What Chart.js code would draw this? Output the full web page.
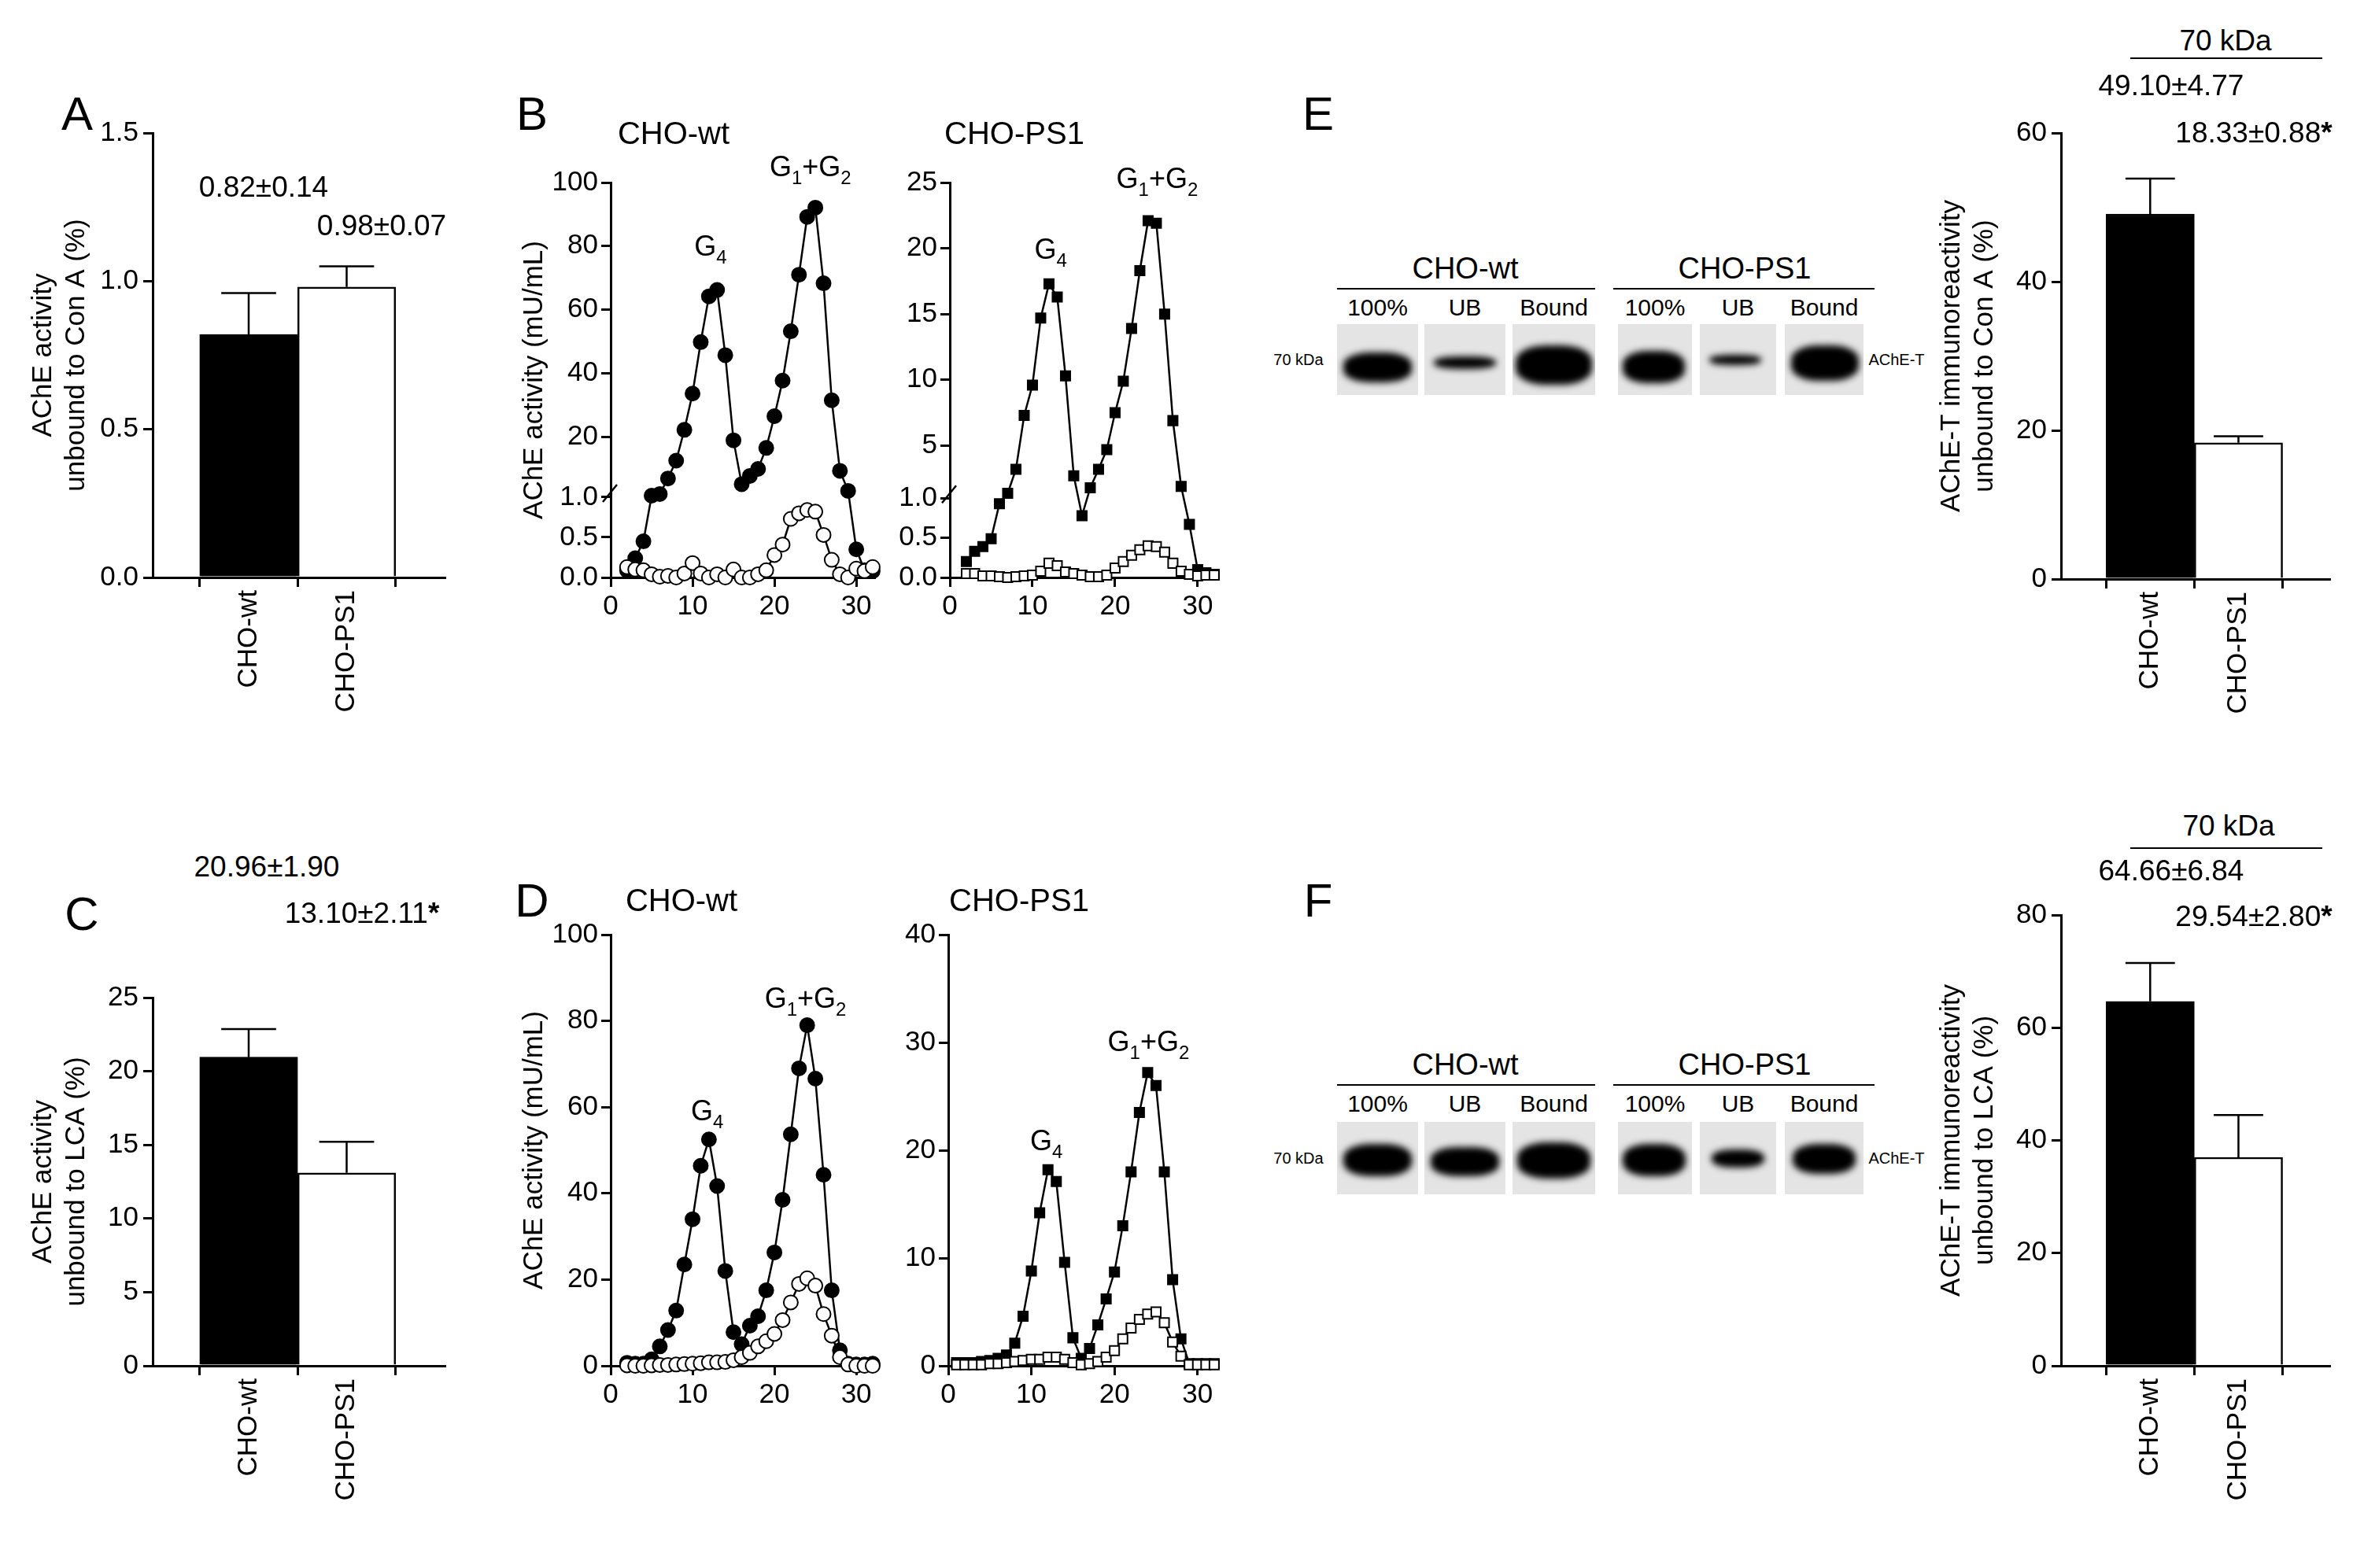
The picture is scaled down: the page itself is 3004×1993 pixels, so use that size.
<!DOCTYPE html>
<html>
<head>
<meta charset="utf-8">
<script src="https://cdn.jsdelivr.net/npm/chart.js@4.4.1/dist/chart.umd.min.js"></script>
<style>
  body { margin: 0; background: #fff; font-family: 'Liberation Sans', Arial, sans-serif; }
  #page { position: relative; width: 3004px; height: 1993px; overflow: hidden; }
  .box { position: absolute; }
  .t { position: absolute; transform: translate(-50%, -50%); white-space: nowrap; color: #000; }
  .hl { position: absolute; height: 2px; background: #000; }
  .lane { position: absolute; background: #e4e4e4; overflow: hidden; }
  .band { position: absolute; background: #000; border-radius: 40%; filter: blur(4px); }
</style>
</head>
<body>
<div id="page"></div>
<script>
// ---- data ----
const groups = ['CHO-wt', 'CHO-PS1'];

// A: AChE unbound to Con A (%)
const conA_mean = [0.82, 0.98];
const conA_sem = [0.14, 0.07];
// C: AChE unbound to LCA (%)
const lca_mean = [20.96, 13.1];
const lca_sem = [1.9, 2.11];
// E: AChE-T immunoreactivity unbound to Con A (%)
const ihcConA_mean = [49.1, 18.33];
const ihcConA_sem = [4.77, 0.88];
// F: AChE-T immunoreactivity unbound to LCA (%)
const ihcLca_mean = [64.66, 37.0];
const ihcLca_sem = [6.84, 7.5];

const fractions = [2,3,4,5,6,7,8,9,10,11,12,13,14,15,16,17,18,19,20,21,22,23,24,25,26,27,28,29,30,31,32];
const fractionsD2 = [1,2,3,4,5,6,7,8,9,10,11,12,13,14,15,16,17,18,19,20,21,22,23,24,25,26,27,28,29,30,31,32];

// B: sucrose gradients, unbound (open) vs total (filled)
const bWtTotal = [0.09,0.24,0.45,1.5,2,6.9,12.5,22.2,33.6,49.8,64.2,66.2,45.7,18.9,5.1,7.7,9.9,16.5,26.5,37.7,53.2,71,89.2,92.1,68.3,31.5,9.3,3.0,0.35,0.09,0.08];
const bWtUnbound = [0.13,0.1,0.09,0.04,0.01,0.02,0,0.05,0.18,0.05,0,0.04,0,0.1,0,0,0.04,0.09,0.28,0.41,0.73,0.8,0.84,0.82,0.53,0.22,0.04,0,0.11,0.08,0.13];
const bPsTotal = [0.2,0.33,0.39,0.49,0.93,1.37,3.2,7.3,9.6,14.7,17.3,16.3,10.3,2.7,0.78,1.8,3.2,4.7,7.5,9.9,13.9,18.3,22.1,21.9,15,6.9,1.9,0.67,0.1,0.06,0.04];
const bPsUnbound = [0.05,0.05,0.02,0.02,0.01,0,0.01,0.02,0.03,0.08,0.18,0.15,0.07,0.05,0.03,0.01,0.01,0.03,0.12,0.2,0.28,0.35,0.4,0.39,0.32,0.18,0.08,0.04,0.02,0.03,0.03];

// D
const dWtTotal = [0.7,0.5,0.5,1.5,4.5,8.3,12.8,23.5,34,46.4,52.5,41.7,22,7.8,5,9.3,11.5,17.5,26.3,38.5,53.7,69,79,66.6,44.3,17.5,3.6,0.5,0.3,0.3,0.5];
const dWtUnbound = [0.1,0,0,0.1,0.2,0.2,0.3,0.4,0.5,0.6,0.8,0.8,0.9,1.3,2,3,4.5,5.7,7.4,10.6,14.7,19,20.3,18.6,12,7,2,0.3,0,0,0];
const dPsTotal = [0.3,0.3,0.3,0.4,0.5,0.7,1,2.1,4.6,8.8,14.2,18.2,17.1,9.6,2.6,0.7,1.6,3.8,6.2,8.7,13,18,23.5,27.2,26,18,8,2.5,0.2,0.2,0.2,0.2];
const dPsUnbound = [0.1,0.1,0.1,0.1,0.2,0.2,0.3,0.4,0.5,0.6,0.6,0.8,0.8,0.6,0.3,0.1,0.2,0.4,0.8,1.4,2.5,3.5,4.3,4.8,5,4,2.2,0.9,0.1,0.1,0.1,0.1];

const FONT = "'Liberation Sans', Arial, sans-serif";
const TICK = 35;
const page = document.getElementById('page');

// broken y axis: 0..1 gets its own stretch, above 1 compressed by ratio
class BrokenScale extends Chart.LinearScale {
  _t(v) { const r = this.options.ratio; return v <= 1 ? v : 1 + (v - 1) * r; }
  getPixelForValue(v) { return this.getPixelForDecimal(this._t(v) / this._t(this.max)); }
  getValueForPixel(p) {
    const d = this.getDecimalForPixel(p) * this._t(this.max);
    const r = this.options.ratio;
    return d <= 1 ? d : 1 + (d - 1) / r;
  }
}
BrokenScale.id = 'broken';
BrokenScale.defaults = Chart.LinearScale.defaults;
Chart.register(BrokenScale);

function text(str, x, y, size, extra) {
  const d = document.createElement('div');
  d.className = 't';
  d.style.left = x + 'px';
  d.style.top = y + 'px';
  d.style.fontSize = size + 'px';
  if (extra) Object.assign(d.style, extra);
  d.innerHTML = str;
  page.appendChild(d);
}
function hline(x0, x1, y) {
  const d = document.createElement('div');
  d.className = 'hl';
  d.style.left = x0 + 'px'; d.style.width = (x1 - x0) + 'px'; d.style.top = y + 'px';
  page.appendChild(d);
}

const axisLine = { display: true, color: '#000', width: 3 };
const tickGrid = { display: true, drawOnChartArea: false, drawTicks: true, tickLength: 12, color: '#000', lineWidth: 3 };

// places a chart so that its chart area sits at area {x0,y0,x1,y1}
function place(area, yW, xH, config) {
  const padT = 90, padR = 20;
  const w = (area.x1 - area.x0) + yW + padR;
  const h = (area.y1 - area.y0) + padT + xH;
  const box = document.createElement('div');
  box.className = 'box';
  box.style.left = (area.x0 - yW) + 'px';
  box.style.top = (area.y0 - padT) + 'px';
  const cv = document.createElement('canvas');
  cv.width = w; cv.height = h;
  box.appendChild(cv);
  page.appendChild(box);
  config.options = Object.assign({
    responsive: false, animation: false, devicePixelRatio: 1,
    layout: { padding: { top: padT, right: padR, left: 0, bottom: 0 } },
  }, config.options);
  config.options.scales.x.afterFit = s => { s.height = xH; };
  config.options.scales.y.afterFit = s => { s.width = yW; };
  config.options.plugins = Object.assign({ legend: { display: false }, tooltip: { enabled: false } }, config.options.plugins);
  return new Chart(cv.getContext('2d'), config);
}

// error bars (upward only) for the bar panels
const errorBars = {
  id: 'errorBars',
  afterDatasetsDraw(chart) {
    const ctx = chart.ctx;
    const meta = chart.getDatasetMeta(0);
    const ds = chart.data.datasets[0];
    ctx.save();
    ctx.strokeStyle = '#000';
    ctx.lineWidth = 2.5;
    meta.data.forEach((bar, i) => {
      const x = bar.x;
      const yTop = chart.scales.y.getPixelForValue(ds.data[i].y + ds.errors[i]);
      const half = bar.width * 0.28;
      ctx.beginPath();
      ctx.moveTo(x, bar.y); ctx.lineTo(x, yTop);
      ctx.moveTo(x - half, yTop); ctx.lineTo(x + half, yTop);
      ctx.stroke();
    });
    ctx.restore();
  }
};

function barChart(area, yW, mean, sem, yMin, yMax, step, decimals, title, xMin, xMax) {
  return place(area, yW, 240, {
    type: 'bar',
    data: {
      datasets: [{
        data: mean.map((v, i) => ({ x: i, y: v })),
        errors: sem,
        backgroundColor: ['#000', '#fff'],
        borderColor: '#000',
        borderWidth: 2.5,
        borderSkipped: 'bottom',
        barPercentage: 1,
        categoryPercentage: 1,
      }]
    },
    options: {
      scales: {
        x: {
          type: 'linear', min: xMin, max: xMax, offset: false,
          afterBuildTicks: s => { s.ticks = groups.map((g, i) => ({ value: i })); },
          ticks: { callback: v => groups[v], minRotation: 90, maxRotation: 90, color: '#000', font: { family: FONT, size: TICK }, padding: 4 },
          grid: tickGrid, border: axisLine,
        },
        y: {
          min: yMin, max: yMax,
          ticks: { stepSize: step, callback: v => v.toFixed(decimals), color: '#000', font: { family: FONT, size: TICK }, padding: 6 },
          grid: tickGrid, border: axisLine,
          title: { display: true, text: title, color: '#000', font: { family: FONT, size: 35 }, padding: 0 },
        }
      }
    },
    plugins: [errorBars]
  });
}

// subscripted peak labels inside the profile panels
const peakLabels = {
  id: 'peakLabels',
  afterDraw(chart) {
    const labs = chart.options.peaks || [];
    const ctx = chart.ctx;
    ctx.save();
    ctx.fillStyle = '#000';
    ctx.textBaseline = 'alphabetic';
    labs.forEach(l => {
      const parts = l.parts;
      let widths = parts.map(p => { ctx.font = (p[1] ? 24 : 36) + 'px ' + FONT; return ctx.measureText(p[0]).width; });
      let total = widths.reduce((a, b) => a + b, 0);
      let x = chart.scales.x.getPixelForValue(l.x) - total / 2;
      const y = chart.scales.y.getPixelForValue(l.y);
      parts.forEach((p, i) => {
        ctx.font = (p[1] ? 24 : 36) + 'px ' + FONT;
        ctx.fillText(p[0], x, p[1] ? y + 10 : y);
        x += widths[i];
      });
    });
    // axis break mark
    if (chart.options.breakAt) {
      const ys = chart.scales.y.getPixelForValue(chart.options.breakAt);
      const xs = chart.scales.y.right;
      ctx.strokeStyle = '#000'; ctx.lineWidth = 2.5;
      ctx.beginPath(); ctx.moveTo(xs - 10, ys + 6); ctx.lineTo(xs + 8, ys - 16); ctx.stroke();
    }
    ctx.restore();
  }
};

const G4 = [['G', 0], ['4', 1]];
const G12 = [['G', 0], ['1', 1], ['+G', 0], ['2', 1]];

function profileChart(area, xs, total, unbound, marker, yOpts, title, peaks, breakAt) {
  const size = marker === 'circle' ? 9 : 8.5;
  return place(area, 118, 70, {
    type: 'line',
    data: {
      datasets: [
        { data: unbound.map((v, i) => ({ x: xs[i], y: v })), borderColor: '#000', borderWidth: 2.5, pointStyle: marker, pointRadius: size, pointBackgroundColor: '#fff', pointBorderColor: '#000', pointBorderWidth: 2 },
        { data: total.map((v, i) => ({ x: xs[i], y: v })), borderColor: '#000', borderWidth: 2.5, pointStyle: marker, pointRadius: size, pointBackgroundColor: '#000', pointBorderColor: '#000', pointBorderWidth: 2 },
      ]
    },
    options: {
      peaks: peaks,
      breakAt: breakAt,
      scales: {
        x: {
          type: 'linear', min: 0, max: 32.2,
          afterBuildTicks: s => { s.ticks = [0, 10, 20, 30].map(v => ({ value: v })); },
          ticks: { color: '#000', font: { family: FONT, size: TICK }, padding: 4 },
          grid: tickGrid, border: axisLine,
        },
        y: Object.assign({
          ticks: { color: '#000', font: { family: FONT, size: TICK }, padding: 4, callback: yOpts.fmt || (v => v) },
          grid: tickGrid, border: axisLine,
          title: { display: !!title, text: title, color: '#000', font: { family: FONT, size: 35 }, padding: 0 },
        }, yOpts.scale)
      },
      clip: false,
    },
    plugins: [peakLabels]
  });
}

// ---- A, C, E, F bar panels ----
barChart({ x0: 194, x1: 565, y0: 169, y1: 734 }, 160, conA_mean, conA_sem, 0, 1.5, 0.5, 1, ['AChE activity', 'unbound to Con A (%)'], -0.98, 2.0);
barChart({ x0: 194, x1: 565, y0: 1268, y1: 1736 }, 160, lca_mean, lca_sem, 0, 25, 5, 0, ['AChE activity', 'unbound to LCA (%)'], -0.98, 2.0);
barChart({ x0: 2619, x1: 2960, y0: 169, y1: 736 }, 160, ihcConA_mean, ihcConA_sem, 0, 60, 20, 0, ['AChE-T immunoreactivity', 'unbound to Con A (%)'], -1.01, 2.03);
barChart({ x0: 2619, x1: 2960, y0: 1163, y1: 1736 }, 160, ihcLca_mean, ihcLca_sem, 0, 80, 20, 0, ['AChE-T immunoreactivity', 'unbound to LCA (%)'], -1.01, 2.03);

// ---- B, D profiles ----
const brokenFmt = v => (v <= 1 ? v.toFixed(1) : v);
const brokenTicks = list => s => { s.ticks = list.map(v => ({ value: v })); };
profileChart({ x0: 776, x1: 1111, y0: 232, y1: 734 }, fractions, bWtTotal, bWtUnbound, 'circle',
  { fmt: brokenFmt, scale: { type: 'broken', ratio: 0.0396, min: 0, max: 100, afterBuildTicks: brokenTicks([0, 0.5, 1, 20, 40, 60, 80, 100]) } },
  'AChE activity (mU/mL)',
  [{ x: 12.2, y: 77, parts: G4 }, { x: 24.4, y: 102, parts: G12 }], 1);
profileChart({ x0: 1207, x1: 1545, y0: 232, y1: 734 }, fractions, bPsTotal, bPsUnbound, 'rect',
  { fmt: brokenFmt, scale: { type: 'broken', ratio: 0.166, min: 0, max: 25, afterBuildTicks: brokenTicks([0, 0.5, 1, 5, 10, 15, 20, 25]) } },
  null,
  [{ x: 12.2, y: 19.2, parts: G4 }, { x: 25.1, y: 24.6, parts: G12 }], 1);
profileChart({ x0: 776, x1: 1111, y0: 1188, y1: 1736 }, fractions, dWtTotal, dWtUnbound, 'circle',
  { scale: { min: 0, max: 100, afterBuildTicks: brokenTicks([0, 20, 40, 60, 80, 100]) } },
  'AChE activity (mU/mL)',
  [{ x: 11.8, y: 57, parts: G4 }, { x: 23.8, y: 83, parts: G12 }], null);
profileChart({ x0: 1205, x1: 1545, y0: 1188, y1: 1736 }, fractionsD2, dPsTotal, dPsUnbound, 'rect',
  { scale: { min: 0, max: 40, afterBuildTicks: brokenTicks([0, 10, 20, 30, 40]) } },
  null,
  [{ x: 11.8, y: 20, parts: G4 }, { x: 24.1, y: 29.2, parts: G12 }], null);

// ---- panel letters and headers ----
[['A', 98, 144], ['B', 676, 144], ['E', 1675, 144], ['C', 104, 1161], ['D', 676, 1144], ['F', 1675, 1144]]
  .forEach(l => text(l[0], l[1], l[2], 60));
text('CHO-wt', 856, 169, 40); text('CHO-PS1', 1289, 169, 40);
text('CHO-wt', 866, 1144, 40); text('CHO-PS1', 1295, 1144, 40);

// value annotations
text('0.82±0.14', 335, 238, 37); text('0.98±0.07', 485, 287, 37);
text('20.96±1.90', 339, 1102, 37); text('13.10±2.11<b>*</b>', 460, 1161, 37);
text('70 kDa', 2828, 52, 37); hline(2707, 2951, 73);
text('49.10±4.77', 2759, 109, 37); text('18.33±0.88<b>*</b>', 2864, 169, 37);
text('70 kDa', 2832, 1050, 37); hline(2707, 2951, 1077);
text('64.66±6.84', 2759, 1107, 37); text('29.54±2.80<b>*</b>', 2864, 1165, 37);

// ---- western blots ----
const laneX = [[1699, 1802], [1810, 1913], [1922, 2027], [2056, 2150], [2160, 2257], [2268, 2368]];
const laneNames = ['100%', 'UB', 'Bound', '100%', 'UB', 'Bound'];
// band [top, height, left, right] as fractions of lane
const bandsE = [[0.4, 0.42, 0.08, 0.92], [0.45, 0.18, 0.12, 0.88], [0.3, 0.55, 0.04, 0.96], [0.38, 0.45, 0.06, 0.9], [0.43, 0.15, 0.12, 0.8], [0.3, 0.5, 0.08, 0.94]];
const bandsF = [[0.3, 0.45, 0.08, 0.92], [0.35, 0.4, 0.08, 0.92], [0.28, 0.5, 0.06, 0.94], [0.3, 0.45, 0.06, 0.92], [0.38, 0.25, 0.15, 0.85], [0.3, 0.42, 0.1, 0.9]];
function blot(yHead, yLine, ySub, yTop, yBot, bands) {
  text('CHO-wt', 1862, yHead, 38); hline(1699, 2027, yLine);
  text('CHO-PS1', 2217, yHead, 38); hline(2050, 2382, yLine);
  laneX.forEach((lx, i) => {
    text(laneNames[i], (lx[0] + lx[1]) / 2, ySub, 30);
    const lane = document.createElement('div');
    lane.className = 'lane';
    const w = lx[1] - lx[0], h = yBot - yTop;
    Object.assign(lane.style, { left: lx[0] + 'px', top: yTop + 'px', width: w + 'px', height: h + 'px' });
    const b = bands[i];
    const band = document.createElement('div');
    band.className = 'band';
    Object.assign(band.style, { left: (b[2] * w) + 'px', width: ((b[3] - b[2]) * w) + 'px', top: (b[0] * h) + 'px', height: (b[1] * h) + 'px' });
    lane.appendChild(band);
    page.appendChild(lane);
  });
  text('70 kDa', 1650, (yTop + yBot) / 2, 20);
  text('AChE-T', 2410, (yTop + yBot) / 2, 20);
}
blot(341, 366, 391, 412, 502, bandsE);
blot(1353, 1378, 1403, 1426, 1518, bandsF);
</script>
</body>
</html>
